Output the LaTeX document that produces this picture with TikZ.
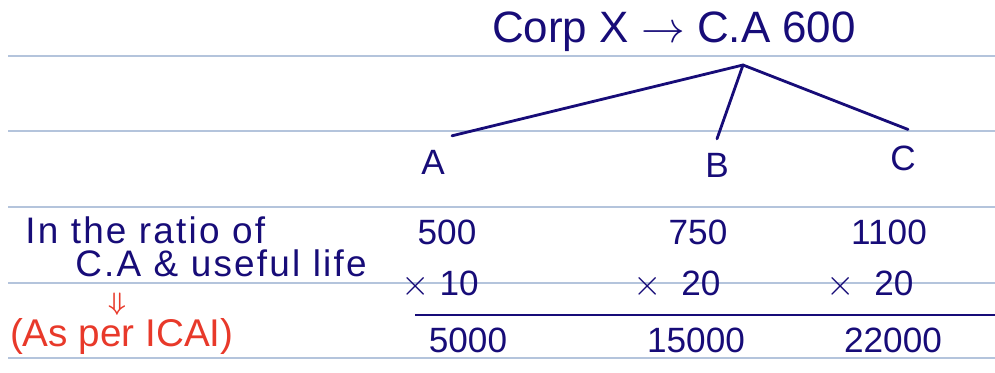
\documentclass[tikz,border=0pt]{standalone}
\usepackage{fontspec}
\setmainfont{Liberation Sans}
\usepackage{amsmath,amssymb}
\usepackage{xcolor}
\usepackage{tikz}
\usetikzlibrary{calc,positioning}

\definecolor{inkblue}{HTML}{170C78}
\definecolor{inkred}{HTML}{E8392A}
\definecolor{ruleblue}{HTML}{B4C4DC}

\begin{document}
\begin{tikzpicture}[
  ink/.style={text=inkblue, font=\fontsize{20}{24}\selectfont, inner sep=1pt},
  bigink/.style={ink, font=\fontsize{25}{30}\selectfont},
  noteink/.style={ink, inner sep=0pt, font=\fontsize{21}{24}\selectfont\addfontfeature{LetterSpace=6}},
  redink/.style={text=inkred, font=\fontsize{22}{26}\selectfont, inner sep=1pt},
  ruled/.style={draw=ruleblue, line width=0.6pt},
  branch/.style={draw=inkblue, line width=1.6pt, line cap=round},
]
\useasboundingbox (0,0) rectangle (19.9,7.44);
% === Notebook lines ===
\foreach \yy in {6.32,4.82,3.30,1.78,0.28}
  \draw[ruled] (0.16,\yy) -- (19.9,\yy);
% === Tree ===
\node[bigink] (title) at (13.48,6.80) {Corp X $\rightarrow$ C.A 600};
\coordinate (root) at (14.86,6.14);
\node[ink] (A) at (8.66,4.20) {A};
\node[ink] (B) at (14.34,4.14) {B};
\node[ink] (C) at (18.06,4.28) {C};
\draw[branch] (root) -- ($(A.north)+(0.38,0.24)$);
\draw[branch] (root) -- ($(B.north)+(0,0.24)$);
\draw[branch] (root) -- ($(C.north)+(0.10,0.28)$);
% === Ratio note ===
\node[noteink, anchor=west] (ratio) at (0.50,2.84) {In the ratio of};
\node[noteink, anchor=west] (life) at (1.50,2.18) {C.A \& useful life};
\node[redink, inner sep=0pt, font=\fontsize{15}{16}\selectfont] (arr) at (2.34,1.36) {$\boldsymbol{\Downarrow}$};
\node[redink, anchor=west] (icai) at (0.16,0.72) {(As per ICAI)};
% === Figures ===
\node[ink] (nA) at (8.94,2.80) {500};
\node[ink] (nB) at (13.96,2.80) {750};
\node[ink] (nC) at (17.78,2.80) {1100};
\node[ink] (mA) at (8.80,1.74) {$\times$ 10};
\node[ink] (mB) at (13.54,1.74) {$\times$\ \ 20};
\node[ink] (mC) at (17.40,1.74) {$\times$\ \ 20};
\draw[branch, line cap=butt] (8.30,1.14) -- (19.9,1.14);
\node[ink] (tA) at (9.36,0.64) {5000};
\node[ink] (tB) at (13.92,0.64) {15000};
\node[ink] (tC) at (17.86,0.64) {22000};
\end{tikzpicture}
\end{document}
